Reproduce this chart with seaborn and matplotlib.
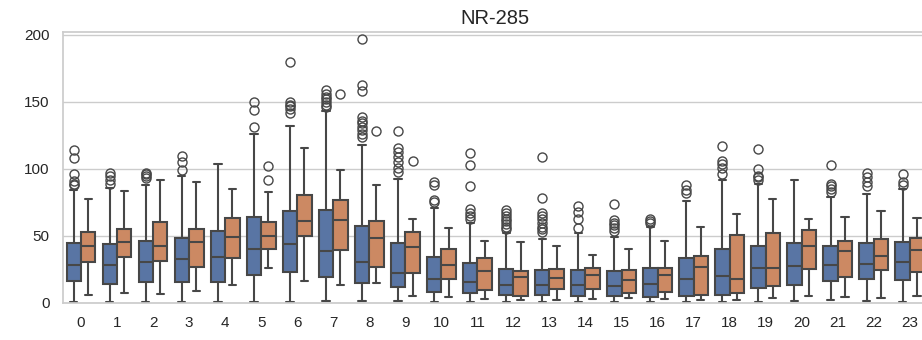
import pandas as pd
import matplotlib
matplotlib.use("Agg")
import matplotlib.pyplot as plt
import seaborn as sns

categories = list(range(24))
groups = ["A", "B"]

# box statistics: whisker low, q1, median, q3, whisker high, outliers
a_lo = [0.5, 0.5, 0.5, 0.5, 0.5, 1, 1, 1.7, 1.2, 1.2, 0.5, 0.5, 0.5, 0.5, 0.5, 0.5, 0.5, 0.5, 0.5, 1, 1.2, 2.5, 1.7, 1]
a_q1 = [16.6, 14.4, 15.3, 15.6, 15.6, 20.8, 23, 19.3, 14.9, 11.9, 8.4, 7.7, 5.9, 5.9, 5.2, 5, 4.5, 5, 5.7, 10.9, 13.1, 16.6, 17.8, 17.1]
a_med = [28.5, 28.5, 30.4, 32.7, 34.4, 40.6, 43.8, 39.1, 30.2, 22.5, 18, 15.3, 13.6, 13.1, 13.1, 12.4, 14.4, 17.8, 19.8, 26, 27.2, 28.2, 29.2, 30.4]
a_q3 = [45, 44, 46, 48.3, 53.5, 64.1, 68.6, 69.3, 57.7, 45, 34.2, 29.5, 25, 24.3, 24.8, 23.5, 26, 33.9, 40.6, 42.8, 45, 42.8, 44.6, 45.3]
a_hi = [84, 86, 88, 95, 103.7, 126, 132, 143, 118, 92.8, 70.5, 59.4, 52, 48, 52, 49, 57, 76, 91.6, 89, 92, 79, 81, 84.9]
a_out = [
    [88, 89, 91, 96, 108, 114],
    [89, 92, 95, 97],
    [93, 95, 96, 97],
    [99, 105, 110],
    [],
    [131, 144, 150],
    [142, 145, 147, 148, 150, 180],
    [146, 148, 150, 152, 154, 156, 159],
    [124, 126, 129, 131, 134, 136, 139, 158, 163, 197],
    [98, 101, 105, 109, 113, 116, 128],
    [75, 77, 88, 90],
    [63, 65, 67, 70, 87, 103, 112],
    [55, 57, 59, 61, 63, 65, 67, 69],
    [53, 55, 57, 60, 63, 65, 67, 78, 109],
    [56, 63, 68, 72],
    [54, 56, 58, 60, 62, 74],
    [59.5, 61, 63],
    [82, 84, 88],
    [96, 101, 104, 106, 117],
    [92, 94, 95, 100, 115],
    [],
    [83, 85, 87, 89, 103],
    [87, 90, 94, 97],
    [88, 90, 96],
]

b_lo = [6.2, 7.2, 6.4, 8.7, 13.4, 26, 16.6, 13.6, 14.9, 5.4, 4.5, 3, 2, 2.5, 3, 3.5, 3, 2, 2, 3.5, 5.4, 4.5, 3.7, 5.4]
b_q1 = [30.9, 34.2, 31.2, 26.7, 33.2, 40.6, 50.2, 39.6, 26.7, 22.3, 18, 9.9, 5, 10.4, 10.4, 7.4, 7.9, 5.7, 7.2, 12.9, 25.7, 19.6, 24.8, 23.3]
b_med = [42.8, 45.8, 42.6, 45.3, 49.3, 50, 61.1, 62, 48.3, 42, 28.2, 23.5, 19, 18.3, 20.5, 16.8, 20.8, 26.5, 17.8, 26, 42.3, 38.9, 34.9, 39.6]
b_q3 = [52.7, 55.2, 60.6, 55.2, 63.1, 60.6, 80.4, 76.5, 61.1, 52.7, 40.3, 33.9, 24, 25, 26, 24.8, 26.2, 34.7, 50.7, 52, 54.7, 46, 47.8, 48.5]
b_hi = [77.5, 83.9, 92, 90.6, 85.4, 83, 116, 99.5, 88.4, 62.9, 55.7, 46.5, 45.8, 42.8, 35.9, 40, 46.3, 56.4, 66.3, 77.7, 62.9, 64.4, 68.6, 63.6]
b_out = [[], [], [], [], [], [92, 102], [], [156], [128], [106]] + [[] for _ in range(14)]


def box_sample(lo, q1, med, q3, hi, out):
    # blocks large enough that numpy's quartiles land exactly on q1 / med / q3
    return [lo] + [q1] * 30 + [med] * 30 + [q3] * 30 + [hi] + list(out)


rows = []
for g, stats in zip(groups, [(a_lo, a_q1, a_med, a_q3, a_hi, a_out),
                             (b_lo, b_q1, b_med, b_q3, b_hi, b_out)]):
    for i, c in enumerate(categories):
        vals = box_sample(*(s[i] for s in stats))
        rows += [(c, g, v) for v in vals]
df = pd.DataFrame(rows, columns=["category", "group", "value"])

sns.set_theme(style="whitegrid")
plt.rcParams['font.family'] = ['Liberation Sans', 'DejaVu Sans']

fig = plt.figure(figsize=(9.22, 3.4), dpi=100)
ax = fig.add_axes([0.0683, 0.109, 0.938, 0.796])

sns.boxplot(data=df, x="category", y="value", hue="group", ax=ax,
            palette="deep", legend=False, fliersize=6.5, linewidth=1.5,
            linecolor="#474747")

ax.set_ylim(0, 202)
ax.set_yticks([0, 50, 100, 150, 200])
ax.set_xlabel("")
ax.set_ylabel("")
ax.set_title("NR-285", fontsize=14.5)
ax.tick_params(axis='both', labelsize=11)

fig.savefig("out.png", dpi=100)
